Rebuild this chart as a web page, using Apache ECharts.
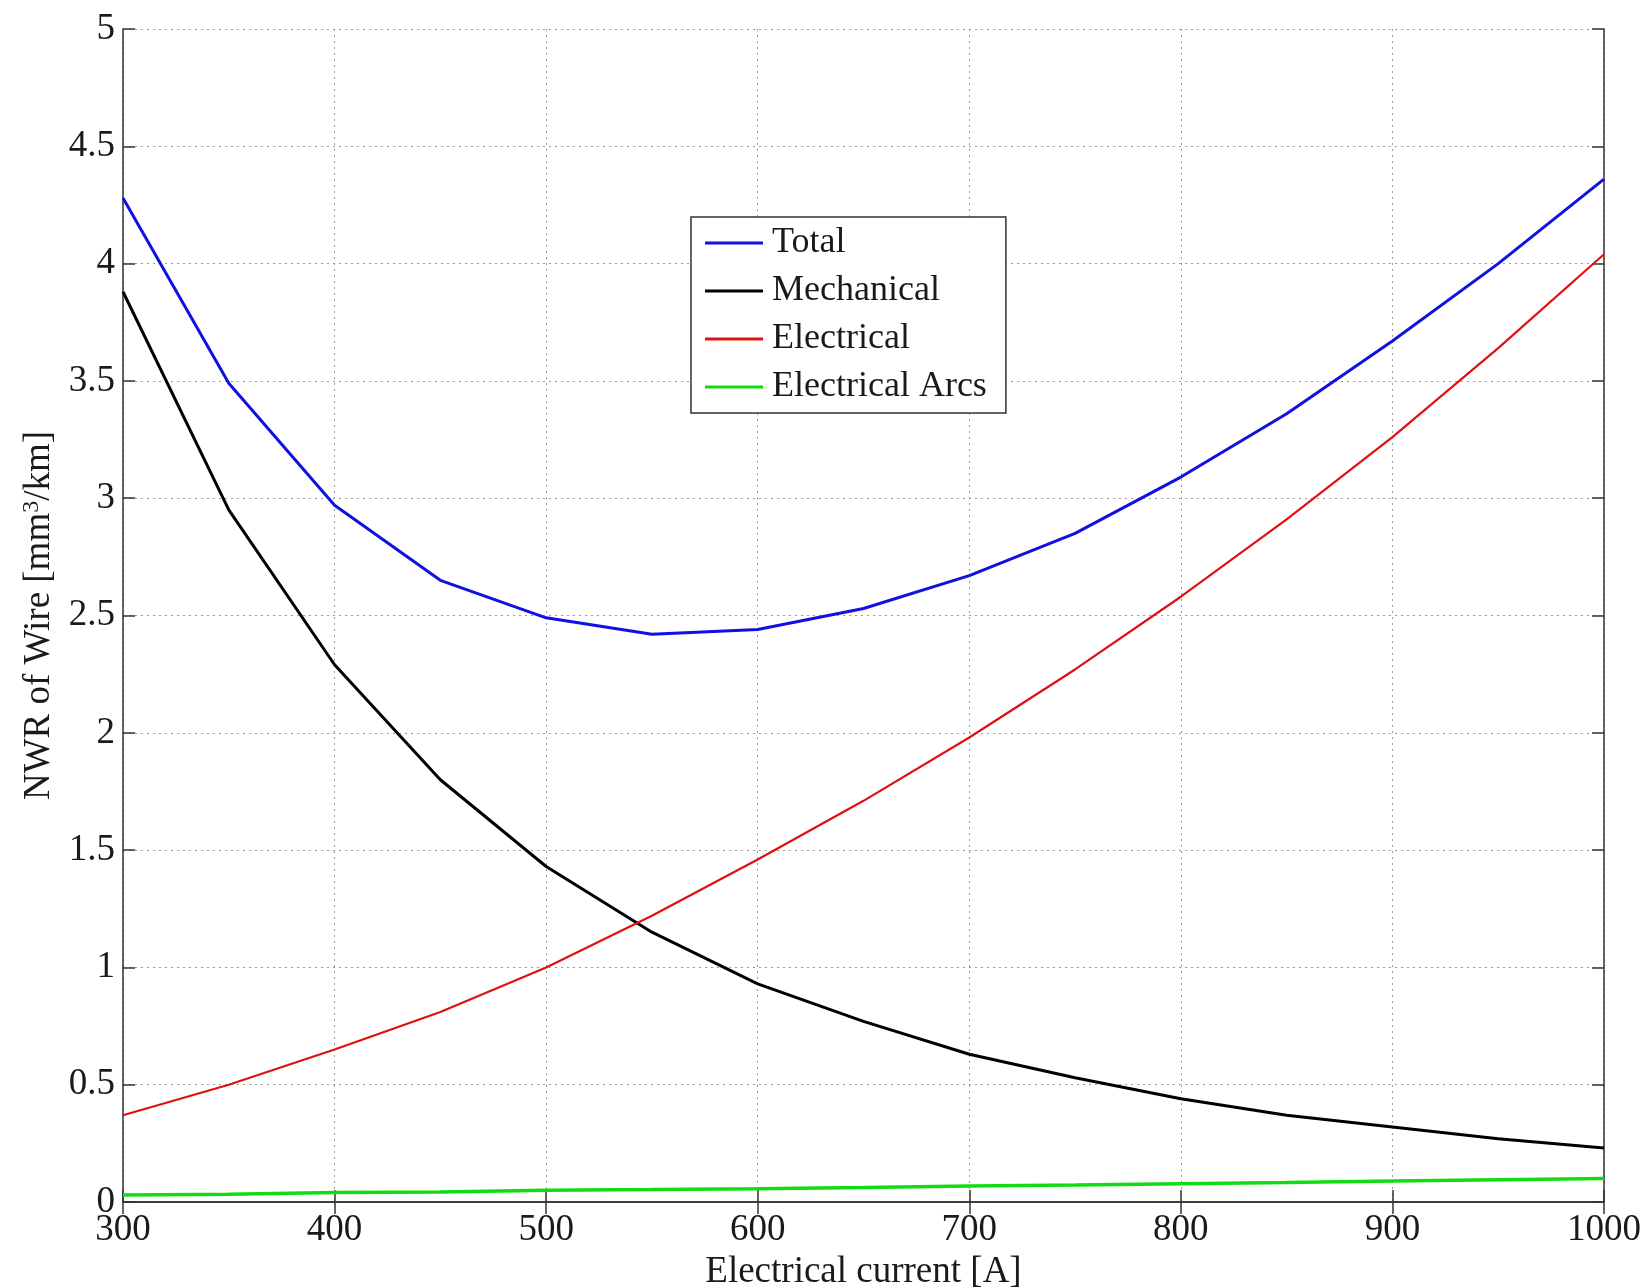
<!DOCTYPE html>
<html><head><meta charset="utf-8">
<script src="https://cdn.jsdelivr.net/npm/echarts@6/dist/echarts.min.js"></script>
<style>html,body{margin:0;padding:0;background:#fff}#c{width:1648px;height:1288px}</style>
</head><body><div id="c"></div>
<script>
const current = [300,350,400,450,500,550,600,650,700,750,800,850,900,950,1000];
const total = [4.28,3.49,2.97,2.65,2.49,2.42,2.44,2.53,2.67,2.85,3.09,3.36,3.67,4.0,4.36];
const mechanical = [3.88,2.95,2.29,1.80,1.43,1.15,0.93,0.77,0.63,0.53,0.44,0.37,0.32,0.27,0.23];
const electrical = [0.37,0.50,0.65,0.81,1.00,1.22,1.46,1.71,1.98,2.27,2.58,2.91,3.26,3.64,4.04];
const arcs = [0.030,0.033,0.040,0.043,0.050,0.053,0.057,0.062,0.068,0.072,0.078,0.083,0.090,0.095,0.100];
const seriesNames = ['Total','Mechanical','Electrical','Electrical Arcs'];

const font = '"Liberation Serif", "Times New Roman", serif';
const pair = arr => current.map((x,i)=>[x,arr[i]]);
const gridLine = {show:true, lineStyle:{color:'#9a9a9a', type:[2,4], width:1}};
const tick = {show:true, inside:true, length:12, lineStyle:{color:'#333', width:1.5}};
const axLine = {show:true, lineStyle:{color:'#333', width:1.5}};

const chart = echarts.init(document.getElementById('c'));
chart.setOption({
  backgroundColor:'#fff',
  animation:false,
  textStyle:{fontFamily:font},
  grid:{left:123, right:44, top:29, bottom:86, containLabel:false, outerBoundsMode:'none'},
  legend:{
    orient:'vertical', left:691, top:217,
    data:seriesNames, icon:'rect',
    backgroundColor:'#fff', borderColor:'#333', borderWidth:1.5,
    padding:[8,19,8,14], itemWidth:58, itemHeight:3, itemGap:12,
    textStyle:{fontFamily:font, fontSize:36, color:'#1a1a1a', padding:[0,0,0,4]}
  },
  xAxis:[
    {type:'value', min:300, max:1000, interval:100, position:'bottom',
     name:'Electrical current [A]', nameLocation:'middle', nameGap:45,
     nameTextStyle:{fontFamily:font, fontSize:37, color:'#1a1a1a'},
     axisLine:axLine, axisTick:tick, splitLine:gridLine,
     axisLabel:{fontFamily:font, fontSize:37, color:'#1a1a1a', margin:10, formatter:v=>String(v)}},
    {type:'value', min:300, max:1000, interval:100, position:'top',
     axisLine:axLine, axisTick:tick, splitLine:{show:false}, axisLabel:{show:false}}
  ],
  yAxis:[
    {type:'value', min:0, max:5, interval:0.5, position:'left',
     name:'{n|NWR of Wire [mm}{s|3}{n|/km]}', nameLocation:'middle', nameGap:53, nameRotate:90,
     nameTextStyle:{rich:{
       n:{fontFamily:font, fontSize:37, color:'#1a1a1a'},
       s:{fontFamily:font, fontSize:24, color:'#1a1a1a', verticalAlign:'bottom', padding:[0,0,16,0]}}},
     axisLine:axLine, axisTick:tick, splitLine:gridLine,
     axisLabel:{fontFamily:font, fontSize:37, color:'#1a1a1a', margin:8}},
    {type:'value', min:0, max:5, interval:0.5, position:'right',
     axisLine:axLine, axisTick:tick, splitLine:{show:false}, axisLabel:{show:false}}
  ],
  series:[
    {name:seriesNames[0], type:'line', data:pair(total), symbol:'none', lineStyle:{color:'#1010e0', width:3}, itemStyle:{color:'#1010e0'}},
    {name:seriesNames[1], type:'line', data:pair(mechanical), symbol:'none', lineStyle:{color:'#000', width:3}, itemStyle:{color:'#000'}},
    {name:seriesNames[2], type:'line', data:pair(electrical), symbol:'none', lineStyle:{color:'#e01010', width:2.2}, itemStyle:{color:'#e01010'}},
    {name:seriesNames[3], type:'line', data:pair(arcs), symbol:'none', lineStyle:{color:'#10dd10', width:3.5}, itemStyle:{color:'#10dd10'}}
  ]
});
</script></body></html>
